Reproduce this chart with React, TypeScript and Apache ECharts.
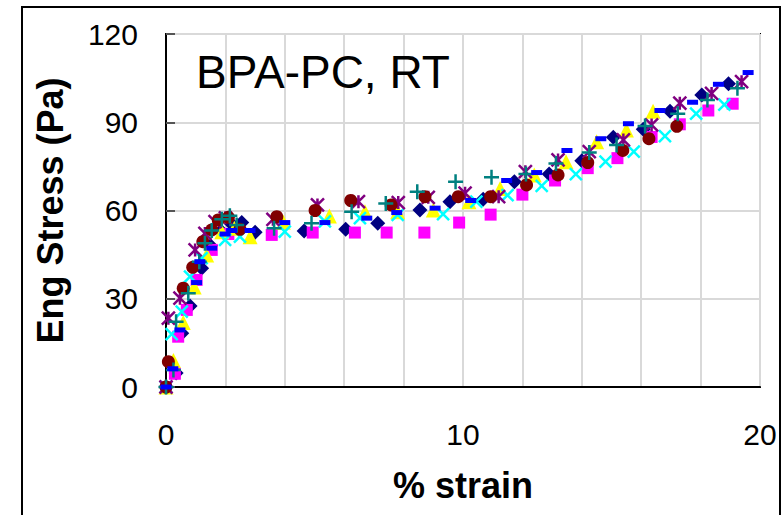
import React, { useEffect, useRef } from "react";
import * as echarts from "echarts";

const xTicks = [0, 10, 20];
const yTicks = [0, 30, 60, 90, 120];

const navyStrain = [0, 0.34, 0.53, 0.81, 1.2, 1.5, 1.85, 2.2, 2.55, 3.0, 4.65, 6.05, 7.13, 8.55, 9.56, 10.68, 11.73, 12.9, 14.0, 15.06, 16.07, 16.97, 18.04, 18.94];
const navyStress = [0, 4.8, 18.3, 27.5, 40.4, 48, 53, 55.5, 55.9, 52.6, 53.0, 53.6, 55.7, 60.2, 63.0, 63.8, 69.8, 72.4, 76.9, 84.9, 87.6, 93.7, 99.3, 103.1];

const magentaStrain = [0, 0.3, 0.41, 0.7, 1.03, 1.54, 2.1, 3.56, 4.94, 6.36, 7.43, 8.7, 9.87, 10.93, 12.0, 13.1, 14.2, 15.2, 16.35, 17.3, 18.26, 19.08];
const magentaStress = [0, 4.5, 17.1, 26.2, 36.4, 46.6, 52, 51.7, 52.5, 52.5, 52.5, 52.5, 55.9, 58.6, 65.4, 70.2, 74.4, 77.8, 85, 89.3, 94, 96.3];

const yellowStrain = [0, 0.25, 0.58, 0.95, 1.37, 1.88, 2.3, 2.83, 3.95, 5.5, 6.7, 7.8, 9.0, 10.2, 11.25, 12.4, 13.47, 14.5, 15.5, 16.4];
const yellowStress = [0, 9, 21.9, 34, 44.9, 52.8, 54, 51.1, 56, 58.1, 59.6, 59.6, 60.2, 63, 67.5, 72.1, 76.6, 83.4, 87.4, 93.7];

const cyanStrain = [0, 0.19, 0.53, 0.81, 1.2, 1.99, 2.49, 4.0, 5.35, 6.53, 7.8, 9.33, 10.45, 11.5, 12.65, 13.8, 14.8, 15.75, 16.8, 17.85, 18.8];
const cyanStress = [0, 18, 25.6, 37.5, 43.8, 50, 51.1, 52.8, 56.3, 57.4, 58.5, 58.8, 63, 65.2, 68.4, 72.4, 76.6, 80, 85.3, 92.9, 96];

const purpleStrain = [0, 0.08, 0.47, 0.98, 1.31, 1.65, 2.0, 3.6, 5.1, 6.48, 7.82, 8.83, 10.07, 11.2, 12.1, 13.2, 14.25, 15.4, 16.35, 17.3, 18.37, 19.38];
const purpleStress = [0, 23.4, 30.2, 46.6, 52.2, 56.2, 57.5, 57, 61.9, 63, 62.7, 64.5, 65.9, 64.7, 73.2, 77.2, 80, 84, 89.1, 96.5, 99.8, 103.8];

const maroonStrain = [0, 0.08, 0.58, 0.9, 1.24, 1.54, 1.76, 2.1, 2.49, 3.73, 5.02, 6.22, 7.58, 8.72, 9.84, 10.93, 12.14, 13.2, 14.2, 15.38, 16.26, 17.2];
const maroonStress = [0, 8.6, 33.6, 40.7, 49.4, 53.4, 56.8, 57.7, 53.6, 57.9, 60, 63.4, 61.9, 64.7, 64.7, 64.7, 68.7, 72.1, 76.3, 80.4, 84.4, 88.6];

const tealStrain = [0, 0.25, 0.34, 0.75, 1.12, 1.31, 1.54, 1.88, 2.15, 2.38, 3.64, 4.9, 6.25, 7.4, 8.46, 9.75, 10.96, 12.12, 13.13, 14.25, 15.17, 16.13, 17.23, 18.23, 19.24];
const tealStress = [0, 5.8, 22.2, 31.9, 42.6, 48.9, 53.2, 57, 58.2, 55.1, 54, 55.7, 59.6, 62.4, 66.4, 69.8, 71.3, 72.4, 76, 79.7, 82.3, 88.7, 92.9, 97.6, 101.6];

const blueStrain = [0, 0.23, 0.47, 1.03, 1.14, 1.54, 1.99, 2.21, 2.83, 4.0, 5.35, 6.76, 7.77, 9.06, 10.26, 11.47, 12.48, 13.5, 14.64, 15.57, 16.63, 17.73, 18.6, 19.6];
const blueStress = [0, 6.2, 19.4, 35.5, 42.6, 47.2, 52, 53.2, 53.2, 55.9, 55.9, 57.4, 59.3, 60.8, 63.4, 70.2, 72.9, 80.4, 84.4, 89.5, 94, 96.8, 102.9, 106.9];

const zip = (xs: number[], ys: number[]) => xs.map((x, i) => [x, ys[i]]);

const FONT = "'Liberation Sans', Arial, sans-serif";

export default function App() {
  const ref = useRef<HTMLDivElement>(null);
  useEffect(() => {
    if (!ref.current) return;
    const chart = echarts.init(ref.current, null, { renderer: "svg" });
    const X_PATH = "path://M0,0L10,10M10,0L0,10";
    const STAR_PATH = "path://M0,0L10,10M10,0L0,10M5,0L5,10";
    const PLUS_PATH = "path://M5,0L5,10M0,5L10,5";
    const filled = (name: string, data: number[][], symbol: string, size: any, color: string) => ({
      name,
      type: "scatter",
      data,
      symbol,
      symbolSize: size,
      itemStyle: { color, opacity: 1 },
      emphasis: { disabled: true },
    });
    const stroked = (name: string, data: number[][], symbol: string, size: number, color: string) => ({
      name,
      type: "scatter",
      data,
      symbol,
      symbolSize: size,
      itemStyle: { color: "none", borderColor: color, borderWidth: 2.5, opacity: 1 },
      emphasis: { disabled: true },
    });
    chart.setOption({
      animation: false,
      backgroundColor: "#fff",
      grid: {
        left: 166,
        right: 21,
        top: 34,
        bottom: 128,
        show: true,
        borderColor: "#000",
        borderWidth: 2,
        backgroundColor: "transparent",
      },
      xAxis: {
        type: "value",
        min: 0,
        max: 20,
        interval: 2,
        axisLine: { show: true, onZero: false, lineStyle: { color: "#000", width: 2 } },
        axisTick: { show: false },
        splitLine: { show: true, lineStyle: { color: "#d9d9d9", width: 2 } },
        axisLabel: {
          margin: 32,
          fontSize: 30,
          fontFamily: FONT,
          color: "#000",
          formatter: (v: number) => (xTicks.includes(v) ? String(v) : ""),
        },
        name: "% strain",
        nameLocation: "middle",
        nameGap: 80,
        nameTextStyle: { fontSize: 36, fontWeight: "bold", fontFamily: FONT, color: "#000" },
      },
      yAxis: {
        type: "value",
        min: 0,
        max: 120,
        interval: 30,
        axisLine: { show: true, onZero: false, lineStyle: { color: "#000", width: 2 } },
        axisTick: { show: true, inside: true, length: 9, lineStyle: { color: "#555", width: 2 } },
        splitLine: { show: true, lineStyle: { color: "#d9d9d9", width: 2 } },
        axisLabel: {
          margin: 28,
          fontSize: 30,
          fontFamily: FONT,
          color: "#000",
          formatter: (v: number) => (yTicks.includes(v) ? String(v) : ""),
        },
        name: "Eng Stress (Pa)",
        nameLocation: "middle",
        nameGap: 98,
        nameRotate: 90,
        nameTextStyle: { fontSize: 36, fontWeight: "bold", fontFamily: FONT, color: "#000" },
      },
      series: [
        filled("navy", zip(navyStrain, navyStress), "diamond", 15, "#000080"),
        filled("magenta", zip(magentaStrain, magentaStress), "rect", 12, "#FF00FF"),
        filled("yellow", zip(yellowStrain, yellowStress), "triangle", 15, "#FFFF00"),
        stroked("cyan", zip(cyanStrain, cyanStress), X_PATH, 12, "#00FFFF"),
        stroked("purple", zip(purpleStrain, purpleStress), STAR_PATH, 13, "#800080"),
        filled("maroon", zip(maroonStrain, maroonStress), "circle", 13, "#800000"),
        stroked("teal", zip(tealStrain, tealStress), PLUS_PATH, 15, "#008080"),
        filled("blue", zip(blueStrain, blueStress), "rect", [11, 5], "#0000FF"),
      ],
      graphic: [
        {
          type: "rect",
          shape: { x: 22, y: 7, width: 758, height: 530 },
          style: { fill: "none", stroke: "#000", lineWidth: 2 },
          silent: true,
        },
        {
          type: "text",
          x: 196,
          y: 72,
          style: {
            text: "BPA-PC, RT",
            fontSize: 46,
            fontFamily: FONT,
            fill: "#000",
            textVerticalAlign: "middle",
            textAlign: "left",
          },
          z: 10,
        },
      ],
    });
    return () => chart.dispose();
  }, []);
  return (
    <div
      ref={ref}
      style={{ position: "absolute", left: 0, top: 0, width: 781, height: 515, background: "#fff" }}
    />
  );
}
